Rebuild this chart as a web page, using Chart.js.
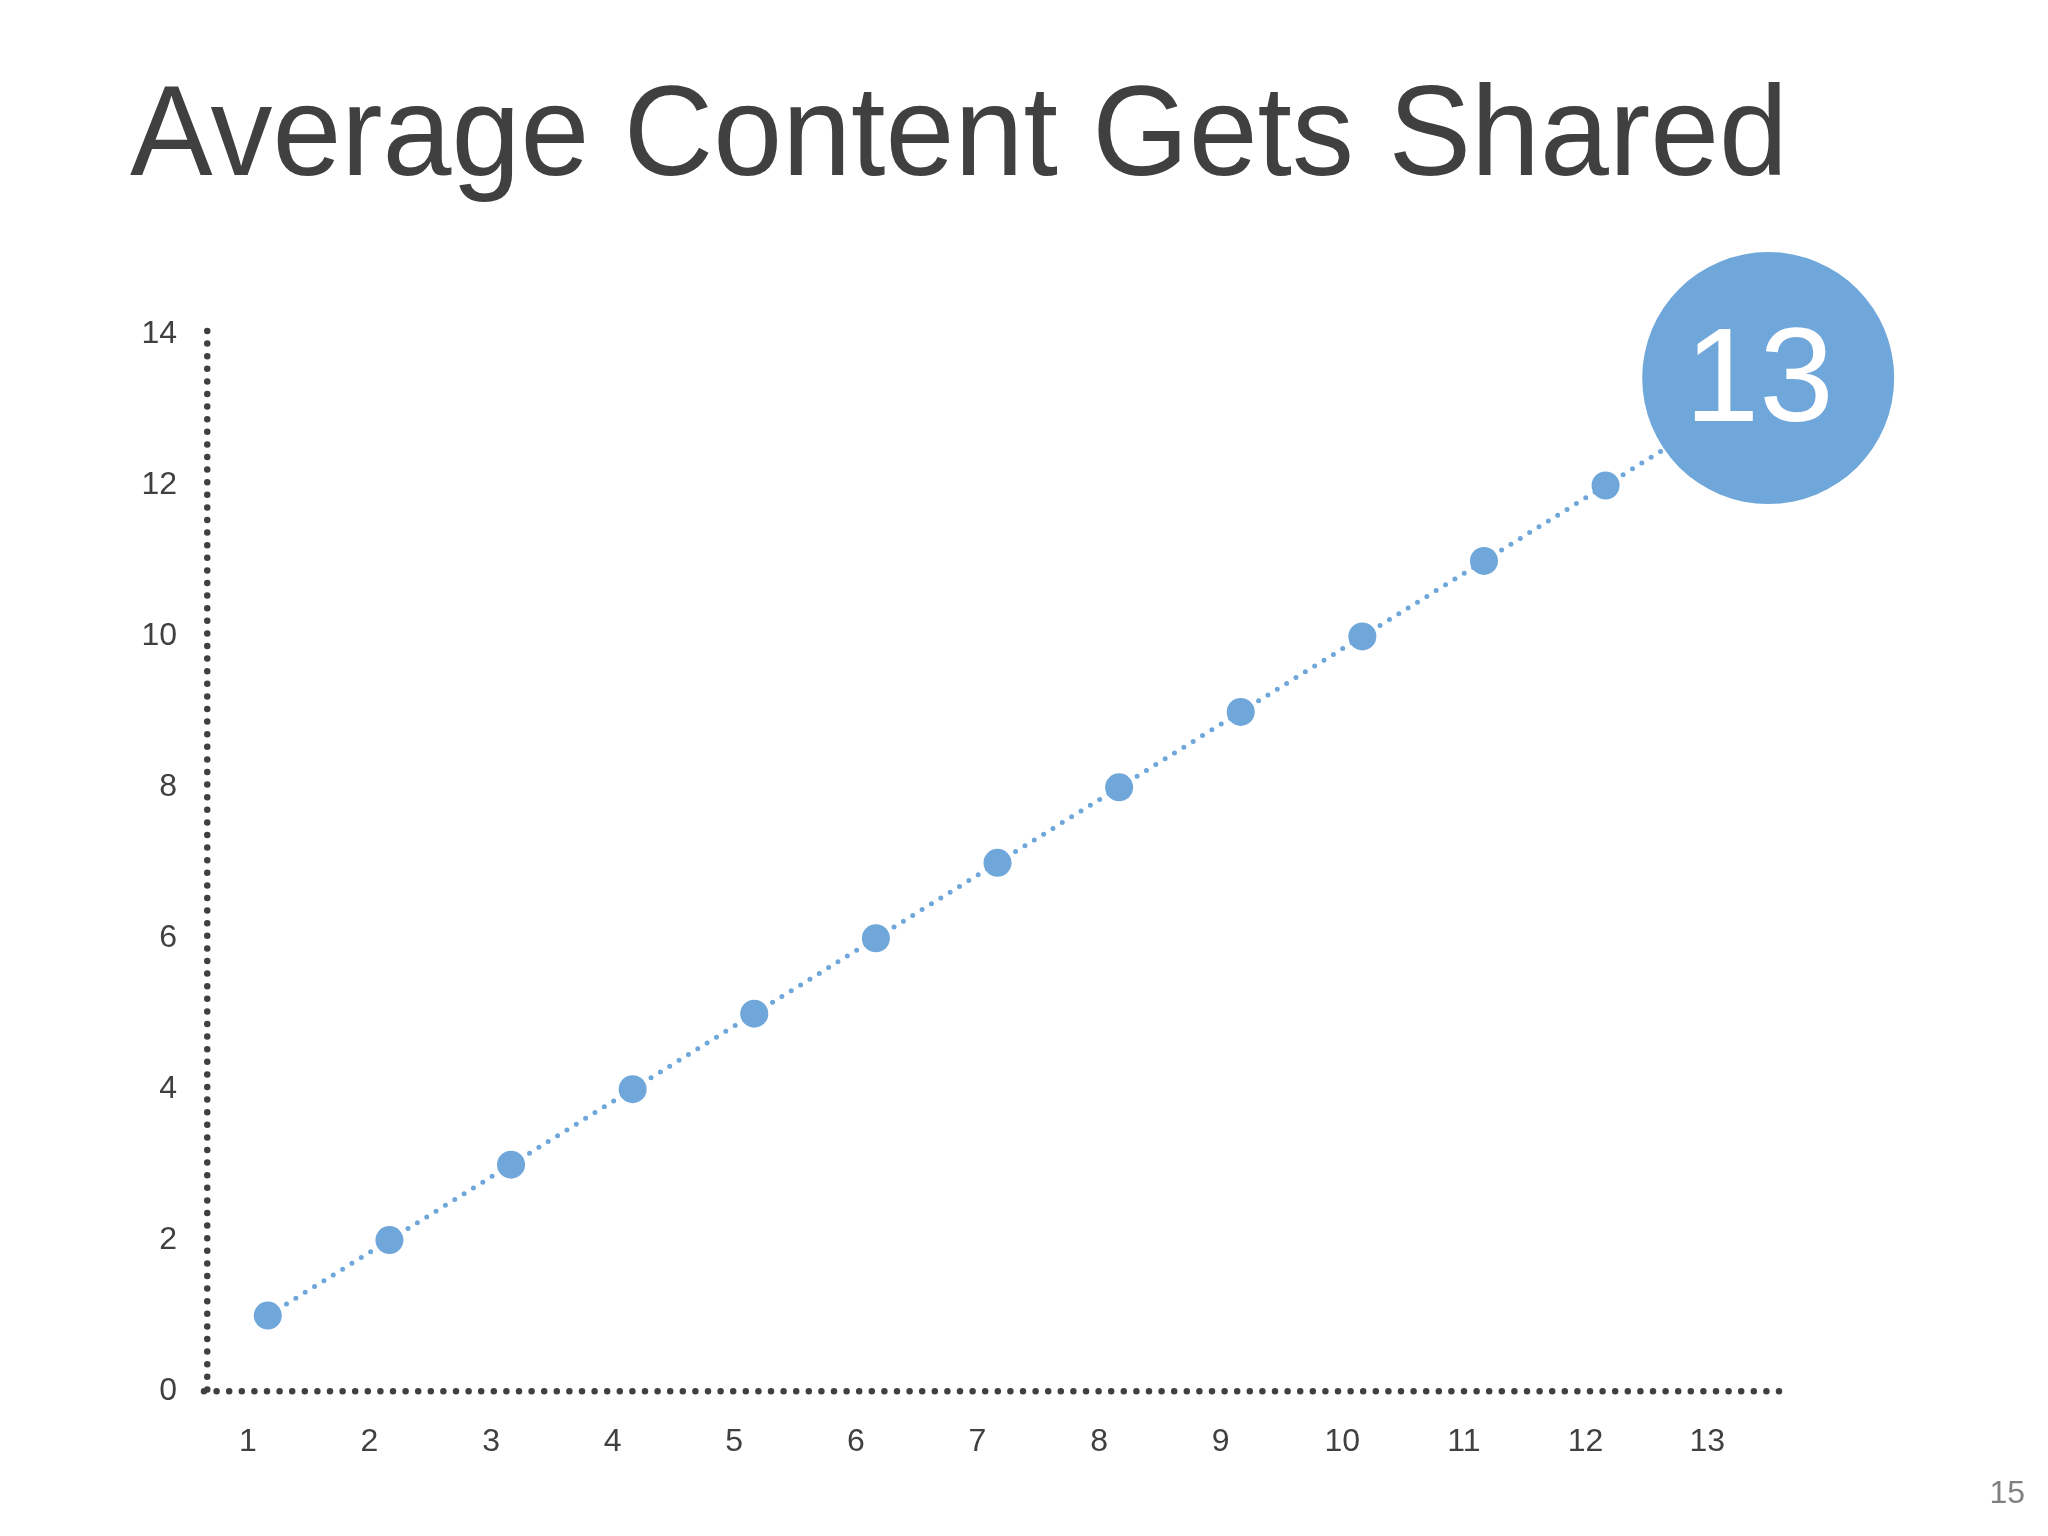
<!DOCTYPE html>
<html>
<head>
<meta charset="utf-8">
<title>Average Content Gets Shared</title>
<script src="https://cdn.jsdelivr.net/npm/chart.js@4.4.1/dist/chart.umd.min.js"></script>
<style>
  html, body { margin: 0; padding: 0; background: #fff; }
  #chart { display: block; }
</style>
</head>
<body>
<canvas id="chart" width="2048" height="1536"></canvas>
<script>
// DATA
var days = ['1', '2', '3', '4', '5', '6', '7', '8', '9', '10', '11', '12', '13'];
var shares = [1, 2, 3, 4, 5, 6, 7, 8, 9, 10, 11, 12, 13];
var yTicks = [0, 2, 4, 6, 8, 10, 12, 14];
var titleText = 'Average Content Gets Shared';
var pageNumber = '15';

var blue = '#6FA7DA';
var dark = '#404040';
var fontFamily = '"Liberation Sans", Arial, Helvetica, sans-serif';

// the axis border is stroked without its own dash / cap,
// so set a round dotted pen before drawing starts
var roundDots = {
    id: 'roundDots',
    beforeDraw: function(chart) {
        chart.ctx.lineCap = 'round';
        chart.ctx.setLineDash([0, 12.6]);
        chart.ctx.lineDashOffset = 0;
    },
    afterDraw: function(chart) {
        chart.ctx.setLineDash([]);
        chart.ctx.lineCap = 'butt';
    }
};

// big bubble over the last point
var callout = {
    id: 'callout',
    afterDatasetsDraw: function(chart) {
        var last = shares.length - 1;
        var pt = chart.getDatasetMeta(0).data[last];
        var ctx = chart.ctx;
        var cx = pt.x + 41, cy = pt.y - 32;
        ctx.save();
        ctx.setLineDash([]);
        ctx.fillStyle = blue;
        ctx.beginPath();
        ctx.arc(cx, cy, 126, 0, Math.PI * 2);
        ctx.fill();
        ctx.fillStyle = '#ffffff';
        ctx.font = '134px ' + fontFamily;
        ctx.textAlign = 'center';
        ctx.textBaseline = 'alphabetic';
        ctx.fillText(String(shares[last]), cx - 9, cy + 43);
        ctx.restore();
    }
};

var pageNo = {
    id: 'pageNo',
    afterDraw: function(chart) {
        var ctx = chart.ctx;
        ctx.save();
        ctx.fillStyle = '#808080';
        ctx.font = '32px ' + fontFamily;
        ctx.textAlign = 'right';
        ctx.textBaseline = 'alphabetic';
        ctx.fillText(pageNumber, 2025, 1503);
        ctx.restore();
    }
};

var ctx = document.getElementById('chart').getContext('2d');
var chart = new Chart(ctx, {
    type: 'line',
    data: {
        labels: days,
        datasets: [{
            data: shares,
            borderColor: blue,
            borderWidth: 5,
            borderDash: [0, 11],
            borderCapStyle: 'round',
            pointRadius: 14,
            pointHoverRadius: 14,
            pointBackgroundColor: blue,
            pointBorderWidth: 0,
            tension: 0,
            fill: false
        }]
    },
    options: {
        responsive: false,
        animation: false,
        devicePixelRatio: 1,
        layout: {
            padding: {left: 130, right: 260, top: 0, bottom: 75}
        },
        plugins: {
            legend: {display: false},
            tooltip: {enabled: false},
            title: {
                display: true,
                text: titleText,
                align: 'start',
                color: dark,
                font: {family: fontFamily, size: 128, weight: 'normal', lineHeight: 1.2},
                padding: {top: 63, bottom: 118}
            }
        },
        scales: {
            x: {
                offset: true,
                grid: {display: false, drawTicks: false},
                border: {display: true, color: dark, width: 6.5},
                ticks: {
                    color: dark,
                    padding: 32,
                    labelOffset: -20,
                    font: {family: fontFamily, size: 32}
                },
                afterFit: function(scale) { scale.height = 70; }
            },
            y: {
                min: 0,
                max: 14,
                grid: {display: false, drawTicks: false},
                border: {display: true, color: dark, width: 6.5},
                ticks: {
                    color: dark,
                    padding: 30,
                    font: {family: fontFamily, size: 32}
                },
                afterBuildTicks: function(scale) {
                    scale.ticks = yTicks.map(function(v) { return {value: v}; });
                },
                afterFit: function(scale) { scale.width = 77; }
            }
        }
    },
    plugins: [roundDots, callout, pageNo]
});
</script>
</body>
</html>
